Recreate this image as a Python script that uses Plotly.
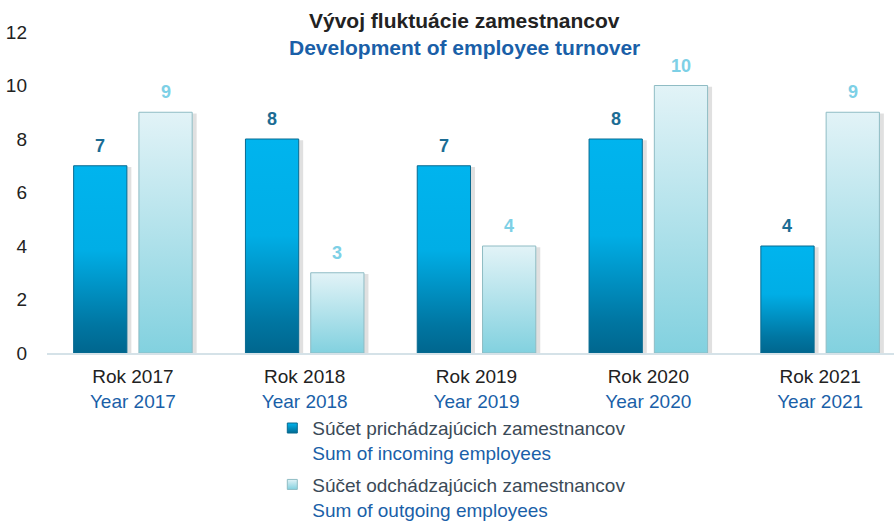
import plotly.graph_objects as go

# ---------------- data ----------------
categories_sk = ["Rok 2017", "Rok 2018", "Rok 2019", "Rok 2020", "Rok 2021"]
categories_en = ["Year 2017", "Year 2018", "Year 2019", "Year 2020", "Year 2021"]
incoming = [7, 8, 7, 8, 4]
outgoing = [9, 3, 4, 10, 9]
y_ticks = [0, 2, 4, 6, 8, 10, 12]
series_sk = ["Súčet prichádzajúcich zamestnancov", "Súčet odchádzajúcich zamestnancov"]
series_en = ["Sum of incoming employees", "Sum of outgoing employees"]
title_sk = "Vývoj fluktuácie zamestnancov"
title_en = "Development of employee turnover"

# ---------------- styling ----------------
FONT = "Liberation Sans, Arial, sans-serif"
DARK = "#222222"
BLUE = "#1a5fa8"
LEG_GRAY = "#3b4a57"
OFFSET = 0.19
HALF = 0.155

styles = [
    dict(offset=-OFFSET,
         colorscale=[[0, "#00668e"], [0.15, "#0076a2"], [0.55, "#00aee6"], [1, "#00b4ee"]],
         top="#00b4ee", bottom="#006a92",
         line="#086a90", label="#1b6c94"),
    dict(offset=OFFSET,
         colorscale=[[0, "#82d1df"], [1, "#e2f3f7"]],
         top="#e2f3f7", bottom="#82d1df",
         line="#8fbcc4", label="#7dd0e6"),
]

fig = go.Figure()

series_values = [incoming, outgoing]

# shadows
for vals, st in zip(series_values, styles):
    for i, v in enumerate(vals):
        xc = i + st["offset"]
        x0, x1 = xc - HALF + 0.012, xc + HALF + 0.026
        fig.add_trace(go.Scatter(
            x=[x0, x1, x1, x0, x0], y=[0, 0, v - 0.05, v - 0.05, 0],
            mode="lines", fill="toself", line=dict(width=0),
            fillcolor="rgba(60,60,60,0.16)", showlegend=False, hoverinfo="skip"))

# bars (gradient polygons)
for s, (vals, st) in enumerate(zip(series_values, styles)):
    for i, v in enumerate(vals):
        xc = i + st["offset"]
        x0, x1 = xc - HALF, xc + HALF
        fig.add_trace(go.Scatter(
            x=[x0, x1, x1, x0, x0], y=[0, 0, v, v, 0],
            mode="lines", fill="toself",
            line=dict(width=1, color=st["line"]),
            fillgradient=dict(type="vertical", colorscale=st["colorscale"]),
            showlegend=False, hoverinfo="skip"))

# legend entries (square gradient markers)
for s, st in enumerate(styles):
    name = (f"<span style='color:{LEG_GRAY}'>{series_sk[s]}</span><br>"
            f"<span style='color:{BLUE}'>{series_en[s]}</span>")
    fig.add_trace(go.Scatter(
        x=[None], y=[None], mode="markers", name=name, legendgroup=f"g{s}",
        marker=dict(symbol="square", size=10, color=st["top"],
                    gradient=dict(type="vertical", color=st["bottom"]),
                    line=dict(width=1, color=st["line"]))))

# value labels
annotations = []
for vals, st in zip(series_values, styles):
    for i, v in enumerate(vals):
        annotations.append(dict(
            x=i + st["offset"], y=v, xref="x", yref="y", text=f"<b>{v}</b>",
            showarrow=False, xanchor="center", yanchor="bottom", yshift=8,
            font=dict(family=FONT, size=18, color=st["label"])))

annotations += [
    dict(text=f"<b>{title_sk}</b>", x=0.4935, y=1.036, xref="paper", yref="paper",
         xanchor="center", yanchor="middle", showarrow=False,
         font=dict(size=21, color=DARK)),
    dict(text=f"<b>{title_en}</b>", x=0.4935, y=0.952, xref="paper", yref="paper",
         xanchor="center", yanchor="middle", showarrow=False,
         font=dict(size=21, color=BLUE)),
]

ticktext = [f"<span style='color:{DARK}'>{a}</span><br><span style='color:{BLUE}'>{b}</span>"
            for a, b in zip(categories_sk, categories_en)]

fig.update_layout(
    width=894, height=522,
    margin=dict(l=47, r=0, t=32, b=169, autoexpand=False),
    paper_bgcolor="white", plot_bgcolor="white",
    font=dict(family=FONT, size=19, color=DARK),
    hovermode=False,
    xaxis=dict(range=[-0.5, 4.43], tickvals=list(range(len(categories_sk))),
               ticktext=ticktext, showgrid=False, zeroline=False,
               showline=True, linecolor="#d5e2e8", linewidth=2, ticks="",
               tickfont=dict(size=19), ticklabelstandoff=5, automargin=False),
    yaxis=dict(range=[0, 12], tickvals=y_ticks, showgrid=False, zeroline=False,
               showline=False, ticks="", tickfont=dict(size=19, color=DARK),
               ticklabelstandoff=19, automargin=False),
    legend=dict(x=0.266, y=-0.175, xanchor="left", yanchor="top",
                orientation="v", valign="top", traceorder="grouped",
                tracegroupgap=4,
                font=dict(size=19), itemwidth=30, bgcolor="rgba(0,0,0,0)"),
    annotations=annotations,
)

fig.write_html("out.html", config={"displayModeBar": False},
               post_script="document.body.style.margin='0';")
